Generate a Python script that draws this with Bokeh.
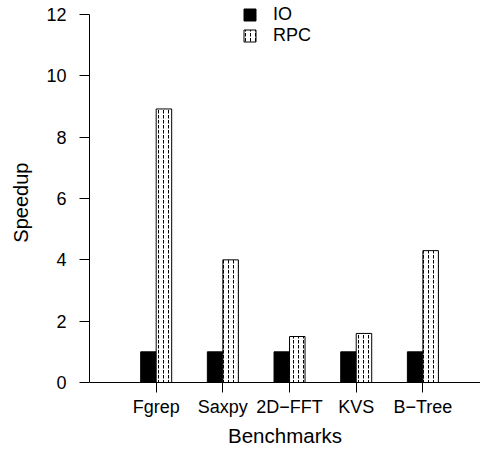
from bokeh.plotting import figure
from bokeh.models import Range1d, FixedTicker, Legend, LegendItem, ColumnDataSource
from bokeh.transform import dodge
from bokeh.embed import file_html
from bokeh.resources import INLINE

benchmarks = ["Fgrep", "Saxpy", "2D\u2212FFT", "KVS", "B\u2212Tree"]
positions = [1, 2, 3, 4, 5]
io_speedup = [1.0, 1.0, 1.0, 1.0, 1.0]
rpc_speedup = [8.92, 4.0, 1.5, 1.6, 4.3]
y_ticks = [0, 2, 4, 6, 8, 10, 12]

FONT = "Liberation Sans"

src = ColumnDataSource(dict(x=positions, io=io_speedup, rpc=rpc_speedup))

p = figure(width=480, height=450, output_backend="svg", toolbar_location=None,
           x_range=Range1d(0, 5.864), y_range=Range1d(0, 12 + 14 * 12 / 368),
           min_border_left=89, min_border_bottom=68, min_border_top=0, min_border_right=0,
           outline_line_color=None)
p.grid.visible = False
p.background_fill_color = "white"
p.border_fill_color = "white"

bw = 0.2325
r_io = p.vbar(x=dodge("x", -bw / 2, range=p.x_range), top="io", bottom=0, width=bw, source=src,
              fill_color="black", line_color="black", line_width=1)
r_rpc = p.vbar(x=dodge("x", bw / 2, range=p.x_range), top="rpc", bottom=0, width=bw, source=src,
               fill_color="white", line_color="black", line_width=1,
               hatch_pattern="vertical_dash", hatch_scale=5, hatch_weight=1, hatch_color="black")

# x axis
xa = p.xaxis[0]
xa.ticker = FixedTicker(ticks=positions)
xa.major_label_overrides = {pos: name for pos, name in zip(positions, benchmarks)}
xa.minor_tick_line_color = None
xa.major_tick_in = 0
xa.major_tick_out = 10
xa.major_label_standoff = 4
xa.axis_label = "Benchmarks"
xa.axis_label_standoff = 4
xa.axis_label_text_font_style = "normal"
xa.axis_label_text_font = FONT
xa.axis_label_text_font_size = "20.5px"
xa.axis_label_text_color = "black"
xa.major_label_text_font = FONT
xa.major_label_text_font_size = "18px"
xa.major_label_text_color = "black"
xa.axis_line_color = "black"
xa.major_tick_line_color = "black"

# y axis
ya = p.yaxis[0]
ya.ticker = FixedTicker(ticks=y_ticks)
ya.bounds = (0, 12)
ya.minor_tick_line_color = None
ya.major_tick_in = 0
ya.major_tick_out = 10
ya.major_label_standoff = 13
ya.major_label_orientation = "horizontal"
ya.axis_label = "Speedup\u00a0\u00a0\u00a0\u00a0"
ya.axis_label_standoff = 11
ya.axis_label_text_font_style = "normal"
ya.axis_label_text_font = FONT
ya.axis_label_text_font_size = "20px"
ya.axis_label_text_color = "black"
ya.major_label_text_font = FONT
ya.major_label_text_font_size = "18px"
ya.major_label_text_color = "black"
ya.axis_line_color = "black"
ya.major_tick_line_color = "black"

legend = Legend(items=[LegendItem(label="IO", renderers=[r_io]),
                       LegendItem(label="RPC", renderers=[r_rpc])],
                location=(153, 336), padding=0, margin=0, spacing=-2,
                glyph_width=15, glyph_height=15, label_height=15, label_standoff=16,
                border_line_color=None, background_fill_alpha=0,
                label_text_font=FONT, label_text_font_size="18px", label_text_color="black")
p.add_layout(legend, "center")

open("out.html", "w").write(file_html(p, INLINE))
